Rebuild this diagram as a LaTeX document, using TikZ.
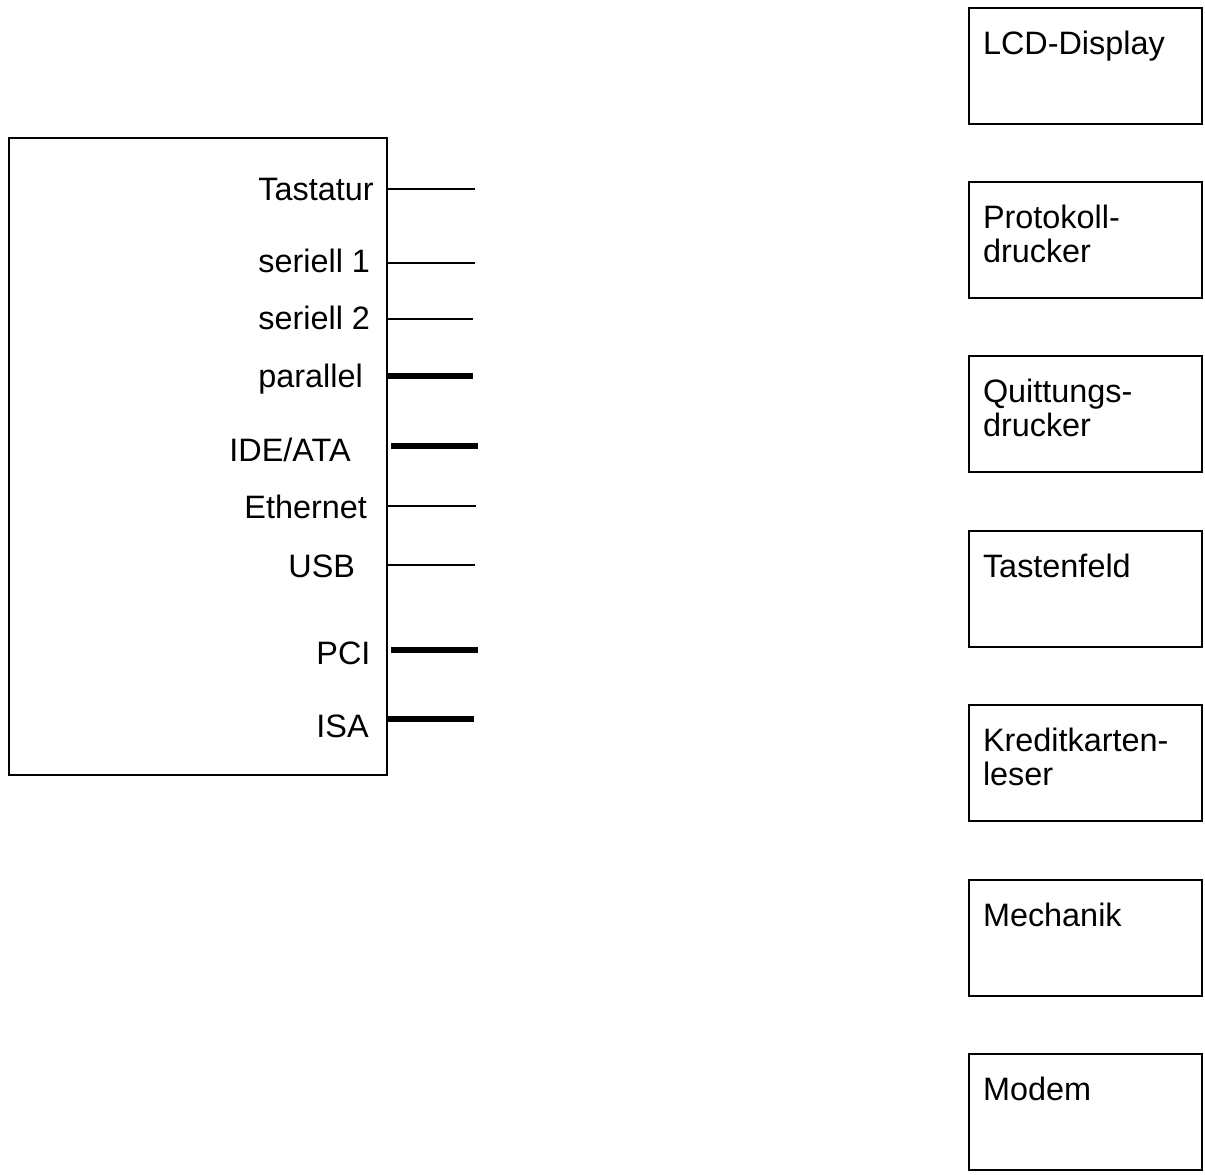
\documentclass[tikz,border=0pt]{standalone}
\usepackage{fontspec}
\setmainfont{Liberation Sans}
\begin{document}
\begin{tikzpicture}[x=0.5pt,y=-0.5pt,
  box/.style={draw,line width=1.4pt,inner sep=0pt,minimum width=116.5pt,minimum height=58pt},
  mainbox/.style={draw,line width=1.4pt,inner sep=0pt,minimum width=189pt,minimum height=318.5pt},
  lbl/.style={anchor=base west,inner sep=0pt,font=\fontsize{16.2}{16.5}\selectfont},
  btxt/.style={anchor=north west,inner sep=0pt,align=left,font=\fontsize{16.2}{16.8}\selectfont},
  thinline/.style={line width=0.75pt},
  thickline/.style={line width=2.9pt}]
\useasboundingbox (0,0) rectangle (1205,1174);
% main box
\node[mainbox] (mb) at (198,456.5) {};
% labels
\node[lbl] (l1) at (258,200) {Tastatur};
\node[lbl] (l2) at (258,272) {seriell 1};
\node[lbl] (l3) at (258,329) {seriell 2};
\node[lbl] (l4) at (258,387) {parallel};
\node[lbl] (l5) at (229,461) {IDE/ATA};
\node[lbl] (l6) at (244,518) {Ethernet};
\node[lbl] (l7) at (288,577) {USB};
\node[lbl] (l8) at (316,664) {PCI};
\node[lbl] (l9) at (316,737) {ISA};
% connector end points
\coordinate (e1) at (475,189);
\coordinate (e2) at (475,263);
\coordinate (e3) at (473,319);
\coordinate (e4) at (473,376);
\coordinate (e5) at (478,446);
\coordinate (e6) at (476,506);
\coordinate (e7) at (475,565);
\coordinate (e8) at (478,650);
\coordinate (e9) at (474,719);
\draw[thinline] (mb.east |- e1) -- (e1);
\draw[thinline] (mb.east |- e2) -- (e2);
\draw[thinline] (mb.east |- e3) -- (e3);
\draw[thickline] (mb.east |- e4) -- (e4);
\draw[thickline] ([xshift=1.5pt]mb.east |- e5) -- (e5);
\draw[thinline] (mb.east |- e6) -- (e6);
\draw[thinline] (mb.east |- e7) -- (e7);
\draw[thickline] ([xshift=1.5pt]mb.east |- e8) -- (e8);
\draw[thickline] (mb.east |- e9) -- (e9);
% right boxes
\node[box] (b1) at (1085.5,66) {};
\node[box] (b2) at (1085.5,240) {};
\node[box] (b3) at (1085.5,414) {};
\node[box] (b4) at (1085.5,589) {};
\node[box] (b5) at (1085.5,763) {};
\node[box] (b6) at (1085.5,938) {};
\node[box] (b7) at (1085.5,1112) {};
\node[btxt] (t1) at ([xshift=7.5pt,yshift=-12pt]b1.north west) {LCD-Display};
\node[btxt] (t2) at ([xshift=7.5pt,yshift=-12pt]b2.north west) {Protokoll-\\drucker};
\node[btxt] (t3) at ([xshift=7.5pt,yshift=-12pt]b3.north west) {Quittungs-\\drucker};
\node[btxt] (t4) at ([xshift=7.5pt,yshift=-12pt]b4.north west) {Tastenfeld};
\node[btxt] (t5) at ([xshift=7.5pt,yshift=-12pt]b5.north west) {Kreditkarten-\\leser};
\node[btxt] (t6) at ([xshift=7.5pt,yshift=-12pt]b6.north west) {Mechanik};
\node[btxt] (t7) at ([xshift=7.5pt,yshift=-12pt]b7.north west) {Modem};
\end{tikzpicture}
\end{document}
